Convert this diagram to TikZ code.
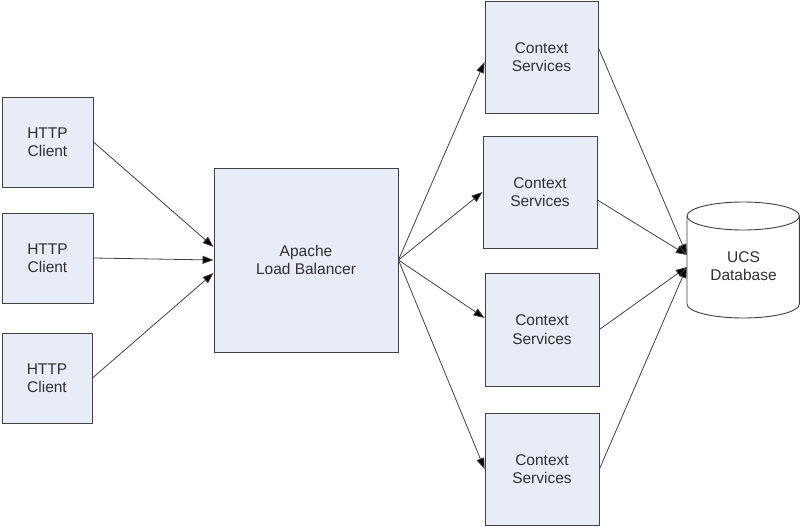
\documentclass[tikz,border=0pt]{standalone}
\usepackage{fontspec}
\setmainfont{Liberation Sans}
\usetikzlibrary{arrows.meta}
\definecolor{boxfill}{HTML}{E7ECF6}
\definecolor{edge}{HTML}{404040}
\definecolor{txt}{HTML}{303030}
\tikzset{
  blk/.style={draw=edge, line width=0.9pt, fill=boxfill, align=center, inner sep=0pt,
    text=txt, font=\fontsize{15.5}{18.5}\selectfont},
  conn/.style={draw=edge, line width=0.8pt, -{Triangle[length=11pt,width=8pt,fill=black]}}
}
\begin{document}
\begin{tikzpicture}[x=1pt,y=-1pt]
\useasboundingbox (0,0) rectangle (800,527);
% HTTP clients
\node[blk, minimum width=91pt, minimum height=90pt] (h1) at (47.5,142) {HTTP\\Client};
\node[blk, minimum width=91pt, minimum height=90pt] (h2) at (47.5,258) {HTTP\\Client};
\node[blk, minimum width=90pt, minimum height=90pt] (h3) at (47,378) {HTTP\\Client};
% Apache
\node[blk, minimum width=184pt, minimum height=184pt] (ap) at (306,260) {Apache\\Load Balancer};
% Context services
\node[blk, minimum width=113pt, minimum height=112pt] (c1) at (541.5,57) {Context\\Services};
\node[blk, minimum width=114pt, minimum height=112pt] (c2) at (540,192) {Context\\Services};
\node[blk, minimum width=114pt, minimum height=113pt] (c3) at (542,329.5) {Context\\Services};
\node[blk, minimum width=114pt, minimum height=112pt] (c4) at (542,469) {Context\\Services};
% Database cylinder
\node[minimum width=113pt, minimum height=116pt, inner sep=0pt] (db) at (743.5,260) {};
\draw[edge, line width=0.9pt, fill=white]
  (687,216) -- (687,304) arc[start angle=180, end angle=0, x radius=56.2, y radius=14]
  -- (799.4,216) arc[start angle=0, end angle=-180, x radius=56.2, y radius=14] -- cycle;
\draw[edge, line width=0.9pt] (687,216) arc[start angle=180, end angle=0, x radius=56.2, y radius=14];
\node[align=center, text=txt, font=\fontsize{15.5}{18.5}\selectfont] (dbl) at (743.5,266) {UCS\\Database};
% connectors clients -> apache
\draw[conn] (h1.east) -- ([yshift=13pt]ap.west);
\draw[conn] (h2.east) -- (ap.west);
\draw[conn] (h3.east) -- ([yshift=-13pt]ap.west);
% apache -> context
\draw[conn] (ap.east) -- ([yshift=-5pt]c1.west);
\draw[conn] (ap.east) -- (c2.west);
\draw[conn] (ap.east) -- ([yshift=11.5pt]c3.west);
\draw[conn] (ap.east) -- (c4.west);
% context -> db
\draw[conn] ([yshift=9pt]c1.east) -- ([yshift=5pt]db.west);
\draw[conn] ([yshift=-8pt]c2.east) -- ([yshift=5pt]db.west);
\draw[conn] (c3.east) -- ([yshift=-7pt]db.west);
\draw[conn] (c4.east) -- ([yshift=-7pt]db.west);
\end{tikzpicture}
\end{document}
